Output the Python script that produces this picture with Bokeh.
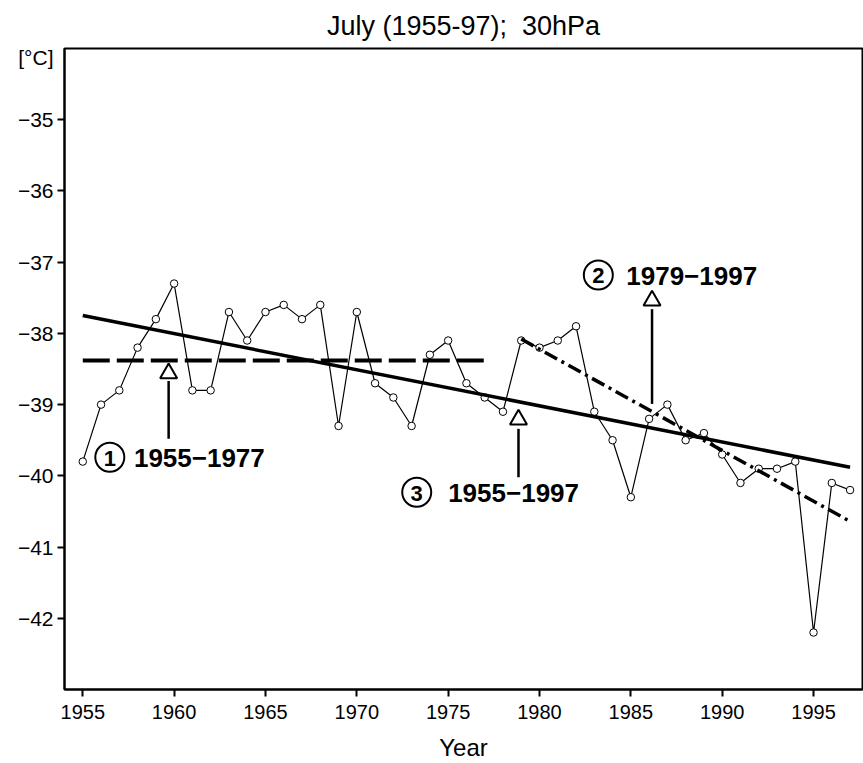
from bokeh.plotting import figure
from bokeh.models import Range1d, FixedTicker, LinearAxis
from bokeh.core.properties import value
from bokeh.embed import file_html
from bokeh.resources import INLINE

# ---- data ----
years = list(range(1955, 1998))
temps = [-39.8, -39.0, -38.8, -38.2, -37.8, -37.3, -38.8, -38.8, -37.7, -38.1,
         -37.7, -37.6, -37.8, -37.6, -39.3, -37.7, -38.7, -38.9, -39.3, -38.3,
         -38.1, -38.7, -38.9, -39.1, -38.1, -38.2, -38.1, -37.9, -39.1, -39.5,
         -40.3, -39.2, -39.0, -39.5, -39.4, -39.7, -40.1, -39.9, -39.9, -39.8,
         -42.2, -40.1, -40.2]

trend1_years = [1955, 1977]
trend1_vals = [-38.38, -38.38]
trend2_years = [1979, 1997]
trend2_vals = [-38.08, -40.64]
trend3_years = [1955, 1997]
trend3_vals = [-37.75, -39.88]

x_ticks = [1955, 1960, 1965, 1970, 1975, 1980, 1985, 1990, 1995]
x_tick_labels = ["1955", "1960", "1965", "1970", "1975", "1980", "1985", "1990", "1995"]
y_ticks = [-35, -36, -37, -38, -39, -40, -41, -42]
y_tick_labels = ["\u221235", "\u221236", "\u221237", "\u221238", "\u221239", "\u221240", "\u221241", "\u221242"]
unit_label = "[\u00b0C]"

period_numbers = ["1", "2", "3"]
period_texts = ["1955\u22121977", "1979\u22121997", "1955\u22121997"]

# ---- annotation placement (layout, not data) ----
circ_x = [1956.48, 1983.22, 1973.28]
circ_y = [-39.74, -37.18, -40.23]
text_x = [1957.8, 1984.75, 1975.0]
tri_x = [1959.7, 1986.16, 1978.85]
tri_y = [-38.56, -37.54, -39.21]
arrow_y0 = [-38.67, -37.66, -39.34]
arrow_y1 = [-39.48, -38.99, -40.02]
unit_pos = -34.12

FONT = "Liberation Sans"

p = figure(width=863, height=763, output_backend="svg", toolbar_location=None,
           x_range=Range1d(1954, 1997.68), y_range=Range1d(-43, -34),
           min_border_left=64, min_border_right=1, min_border_top=45,
           min_border_bottom=72)

p.title.text = "July (1955-97);\u00a0\u00a030hPa"
p.title.align = "center"
p.title.text_font = FONT
p.title.text_font_size = "27px"
p.title.text_font_style = "normal"
p.title.text_color = "black"
p.title.text_line_height = 1.0
p.title.standoff = 16

p.grid.visible = False
p.outline_line_color = "black"
p.outline_line_width = 2
p.outline_line_alpha = 1

for ax in (p.xaxis, p.yaxis):
    ax.axis_line_width = 2
    ax.axis_line_color = "black"
    ax.major_tick_line_width = 2
    ax.major_tick_line_color = "black"
    ax.major_tick_out = 7
    ax.major_tick_in = 0
    ax.minor_tick_line_color = None
    ax.major_label_text_font = FONT
    ax.major_label_text_color = "black"

p.xaxis.ticker = FixedTicker(ticks=x_ticks)
p.xaxis.major_label_overrides = {t: l for t, l in zip(x_ticks, x_tick_labels)}
p.xaxis.major_label_text_font_size = "20px"
p.xaxis.major_label_standoff = 8
p.xaxis.axis_label = "Year"
p.xaxis.axis_label_text_font = FONT
p.xaxis.axis_label_text_font_size = "24px"
p.xaxis.axis_label_text_font_style = "normal"
p.xaxis.axis_label_text_color = "black"
p.xaxis.axis_label_standoff = 12

# inner y axis: tick marks only
p.yaxis.ticker = FixedTicker(ticks=y_ticks)
p.yaxis.major_label_overrides = {t: "" for t in y_ticks}
p.yaxis.major_label_text_font_size = "1px"
p.yaxis.major_label_standoff = 0

# outer y axis: the labels, including the unit
label_axis = LinearAxis(ticker=FixedTicker(ticks=y_ticks + [unit_pos]),
                        major_label_overrides={**{t: l for t, l in zip(y_ticks, y_tick_labels)},
                                               unit_pos: unit_label},
                        axis_line_color=None, major_tick_line_color=None,
                        minor_tick_line_color=None, major_tick_out=0,
                        major_tick_in=0, major_label_standoff=4,
                        major_label_text_font=FONT,
                        major_label_text_font_size="21px",
                        major_label_text_color="black")
p.add_layout(label_axis, "left")

# data series
p.line(years, temps, line_color="black", line_width=1.2)
p.scatter(years, temps, marker="circle", size=7.5, fill_color="white",
          line_color="black", line_width=1)

# trend lines
p.line(trend1_years, trend1_vals, line_color="black", line_width=4,
       line_dash="27 7")
p.line(trend2_years, trend2_vals, line_color="black", line_width=3.5,
       line_dash="14 5 3 5")
p.line(trend3_years, trend3_vals, line_color="black", line_width=3.5)

# annotations
p.segment(x0=tri_x, y0=arrow_y0, x1=tri_x, y1=arrow_y1, line_color="black",
          line_width=2.5)
p.scatter(tri_x, tri_y, marker="triangle", size=17, fill_color="white",
          line_color="black", line_width=2)
p.scatter(circ_x, circ_y, marker="circle", size=29, fill_color="white",
          line_color="black", line_width=2)
p.text(x=circ_x, y=circ_y, text=period_numbers, text_font=value(FONT),
       text_font_style="bold", text_font_size="22px", text_align="center",
       text_baseline="middle", y_offset=1)
p.text(x=text_x, y=circ_y, text=period_texts, text_font=value(FONT),
       text_font_style="bold", text_font_size="26px", text_align="left",
       text_baseline="middle", y_offset=1)

open("out.html", "w").write(file_html(p, INLINE))
